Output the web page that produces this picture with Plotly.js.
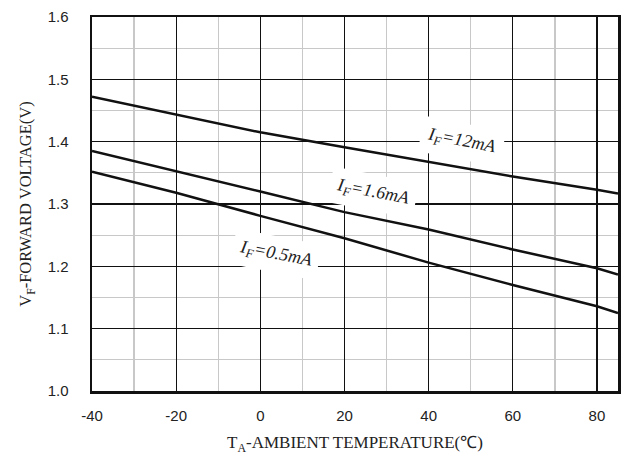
<!DOCTYPE html>
<html>
<head>
<meta charset="utf-8">
<script src="https://cdn.plot.ly/plotly-3.0.1.min.js"></script>
<style>html,body{margin:0;padding:0;background:#fff;}#chart{width:622px;height:463px;}</style>
</head>
<body>
<div id="chart"></div>
<script>
// Data
const temperature = [-40, -20, 0, 20, 40, 60, 80, 85];
const vf_12mA  = [1.472, 1.444, 1.415, 1.391, 1.368, 1.344, 1.323, 1.317];
const vf_1_6mA = [1.385, 1.353, 1.320, 1.287, 1.259, 1.227, 1.197, 1.187];
const vf_0_5mA = [1.352, 1.318, 1.281, 1.245, 1.206, 1.170, 1.136, 1.125];

const currents = ['12mA', '1.6mA', '0.5mA'];
const labelX = [48, 26.7, 3.8];
const labelY = [1.401, 1.318, 1.219];

const xTicks = [-40, -20, 0, 20, 40, 60, 80];
const yTicks = [1.0, 1.1, 1.2, 1.3, 1.4, 1.5, 1.6];

const seriesVals = [vf_12mA, vf_1_6mA, vf_0_5mA];
const traces = seriesVals.map((v, i) => ({
  x: temperature, y: v, type: 'scatter', mode: 'lines',
  name: 'IF=' + currents[i],
  line: {color: '#111', width: 2.5},
  hoverinfo: 'skip'
}));

const annotations = currents.map((c, i) => ({
  x: labelX[i], y: labelY[i], xref: 'x', yref: 'y',
  text: '<i>I<sub>F</sub>=' + c + '</i>',
  showarrow: false, textangle: 11,
  bgcolor: '#ffffff', borderpad: 6,
  font: {family: 'Liberation Serif, Times New Roman, serif', size: 18, color: '#222'}
}));

const layout = {
  width: 622, height: 463,
  margin: {l: 92, r: 4, t: 17, b: 72},
  paper_bgcolor: '#fff', plot_bgcolor: '#fff',
  showlegend: false,
  xaxis: {
    range: [-40, 85], tickvals: xTicks, ticktext: xTicks.map(String),
    showgrid: true, gridcolor: '#111', gridwidth: 1.3,
    minor: {dtick: 10, tick0: -40, showgrid: true, gridcolor: '#c8c8c8', gridwidth: 1.3},
    showline: true, linecolor: '#111', linewidth: 2.5, mirror: true,
    zeroline: false, ticks: '', ticklabelstandoff: 9,
    tickfont: {family: 'Liberation Sans, Arial, sans-serif', size: 15, color: '#222'},
    title: {text: 'T<sub>A</sub>-AMBIENT TEMPERATURE(℃)', standoff: 14,
      font: {family: 'Liberation Serif, Times New Roman, serif', size: 17, color: '#222'}}
  },
  yaxis: {
    range: [1.0, 1.6], tickvals: yTicks, ticktext: yTicks.map(v => v.toFixed(1)),
    showgrid: true, gridcolor: '#111', gridwidth: 1.3,
    minor: {dtick: 0.05, tick0: 1.0, showgrid: true, gridcolor: '#c8c8c8', gridwidth: 1.3},
    showline: true, linecolor: '#111', linewidth: 2.5, mirror: true,
    zeroline: false, ticks: '', ticklabelstandoff: 18,
    tickfont: {family: 'Liberation Sans, Arial, sans-serif', size: 15, color: '#222'},
    title: {text: 'V<sub>F</sub>-FORWARD VOLTAGE(V)', standoff: 12,
      font: {family: 'Liberation Serif, Times New Roman, serif', size: 16.5, color: '#222'}}
  },
  annotations: annotations
};

Plotly.newPlot('chart', traces, layout, {staticPlot: true, displayModeBar: false});
</script>
</body>
</html>
